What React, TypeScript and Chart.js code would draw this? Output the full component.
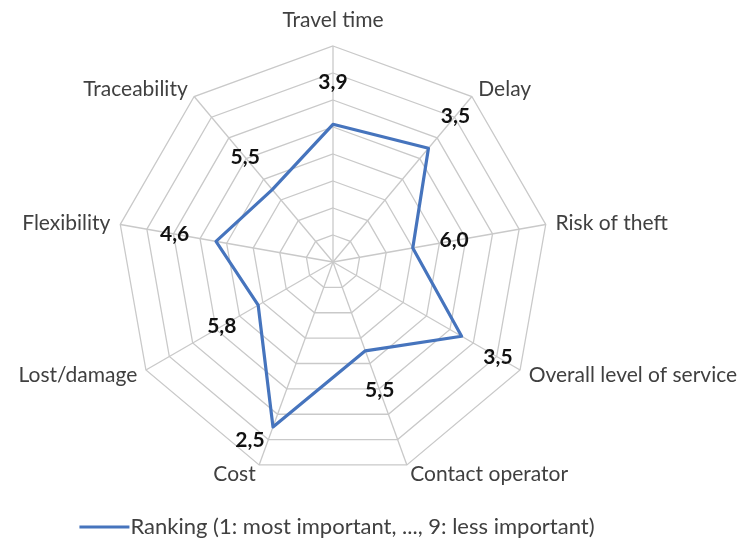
import React, { useEffect, useRef } from "react";
import { Chart, registerables } from "chart.js";

Chart.register(...registerables);

// ---- data ----
const categories: string[] = [
  "Travel time",
  "Delay",
  "Risk of theft",
  "Overall level of service",
  "Contact operator",
  "Cost",
  "Lost/damage",
  "Flexibility",
  "Traceability",
];
const rankingValues: number[] = [3.9, 3.5, 6.0, 3.5, 5.5, 2.5, 5.8, 4.6, 5.5];
const seriesLabel = "Ranking (1: most important, ..., 9: less important)";
const scaleMin = 1;
const scaleMax = 9;
const scaleStep = 1;

// ---- style ----
const FONT = "Lato, 'Open Sans', sans-serif";
const LINE_BLUE = "#4674bd";
const GRID = "#c9c9c9";
const LABEL_COLOR = "#404040";
const VALUE_GAP = 42; // radial distance of value labels beyond their point
const VALUE_NUDGE: Record<number, [number, number]> = { 5: [-23, 13] };

const fmt = (v: number) => v.toFixed(1).replace(".", ",");

const excelLabels = {
  id: "excelLabels",
  afterDatasetsDraw(chart: any) {
    const scale = chart.scales.r;
    const ctx: CanvasRenderingContext2D = chart.ctx;
    const n = categories.length;
    ctx.save();
    ctx.textBaseline = "middle";
    // category labels
    ctx.font = `21px ${FONT}`;
    ctx.fillStyle = LABEL_COLOR;
    for (let i = 0; i < n; i++) {
      const pos = scale.getPointPosition(i, scale.drawingArea + 10);
      const deg = (360 / n) * i;
      const align: CanvasTextAlign =
        deg === 0 || deg === 180 ? "center" : deg < 180 ? "left" : "right";
      let y = pos.y;
      if (deg === 0) y -= 16;
      ctx.textAlign = align;
      ctx.fillText(categories[i], pos.x, y);
    }
    // value labels
    ctx.font = `bold 21px ${FONT}`;
    ctx.fillStyle = "#111111";
    ctx.textAlign = "center";
    rankingValues.forEach((v, i) => {
      let x: number, y: number;
      if (VALUE_NUDGE[i]) {
        const p = scale.getPointPositionForValue(i, v);
        x = p.x + VALUE_NUDGE[i][0];
        y = p.y + VALUE_NUDGE[i][1];
      } else {
        const d = scale.getDistanceFromCenterForValue(v);
        const p = scale.getPointPosition(i, d + VALUE_GAP);
        x = p.x;
        y = p.y;
      }
      ctx.fillText(fmt(v), x, y);
    });
    ctx.restore();
  },
  afterDraw(chart: any) {
    // legend (single series), centred under the plot
    const ds = chart.data.datasets[0];
    const ctx: CanvasRenderingContext2D = chart.ctx;
    const lineLen = 50;
    const gap = 1;
    ctx.save();
    ctx.font = `22px ${FONT}`;
    const tw = ctx.measureText(ds.label).width;
    const total = lineLen + gap + tw;
    const cx = chart.scales.r.xCenter + 4;
    const y = chart.chartArea.bottom + 49;
    const x0 = cx - total / 2;
    ctx.strokeStyle = ds.borderColor;
    ctx.lineWidth = ds.borderWidth;
    ctx.beginPath();
    ctx.moveTo(x0, y);
    ctx.lineTo(x0 + lineLen, y);
    ctx.stroke();
    ctx.fillStyle = LABEL_COLOR;
    ctx.textAlign = "left";
    ctx.textBaseline = "middle";
    ctx.fillText(ds.label, x0 + lineLen + gap, y);
    ctx.restore();
  },
};

export default function App() {
  const ref = useRef<HTMLCanvasElement | null>(null);
  useEffect(() => {
    if (!ref.current) return;
    const chart = new Chart(ref.current, {
      type: "radar",
      data: {
        labels: categories,
        datasets: [
          {
            label: seriesLabel,
            data: rankingValues,
            borderColor: LINE_BLUE,
            backgroundColor: LINE_BLUE,
            borderWidth: 3.2,
            fill: false,
            pointRadius: 0,
            pointHoverRadius: 0,
            borderJoinStyle: "round",
          } as any,
        ],
      },
      options: {
        animation: false,
        responsive: false,
        layout: { padding: { left: 117, right: 194, top: 46, bottom: 67 } },
        plugins: {
          legend: { display: false },
          tooltip: { enabled: false },
        },
        scales: {
          r: {
            min: scaleMin,
            max: scaleMax,
            reverse: true,
            ticks: { stepSize: scaleStep, display: false },
            grid: { color: GRID, lineWidth: 1.3 },
            angleLines: { color: GRID, lineWidth: 1.3 },
            pointLabels: { display: false },
          },
        },
      } as any,
      plugins: [excelLabels],
    });
    return () => chart.destroy();
  }, []);
  return (
    <div style={{ position: "fixed", left: 0, top: 0, width: 743, height: 545, background: "#fff" }}>
      <canvas ref={ref} width={743} height={545} />
    </div>
  );
}
